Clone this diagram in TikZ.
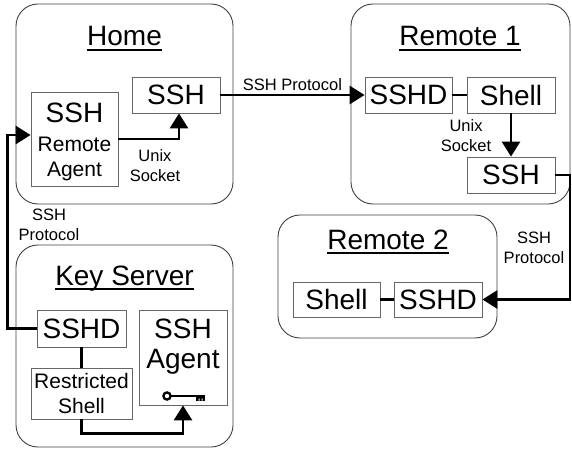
\documentclass[tikz,border=0pt]{standalone}
\usepackage{fontspec}
\setmainfont{Liberation Sans}
\usetikzlibrary{arrows.meta, positioning, calc}

\newcommand{\ftitle}{\fontsize{28}{30}\selectfont}
\newcommand{\fbig}{\fontsize{28}{30}\selectfont}
\newcommand{\fmid}{\fontsize{21}{25}\selectfont}
\newcommand{\fsmall}{\fontsize{16.5}{20}\selectfont}

\tikzset{
  host/.style={draw=black!75, line width=0.9pt, rounded corners=22pt, inner sep=0pt},
  proc/.style={draw=black!60, line width=0.8pt, inner sep=0pt, font=\fbig},
  title/.style={anchor=base, inner sep=0pt, font=\ftitle},
  uline/.style={line width=1.3pt},
  lbl/.style={inner sep=0pt, font=\fsmall, align=center},
  conn/.style={line width=2.8pt},
  arr/.style={conn, -{Triangle[width=18pt,length=15pt]}}
}

\begin{document}
\begin{tikzpicture}[x=1pt,y=-1pt]
\useasboundingbox (0,0) rectangle (572,449);

% Vẽ các khung máy
\node[host, minimum width=217pt, minimum height=200pt] (home) at (124.5,104) {};
\node[host, minimum width=217pt, minimum height=202pt] (keysrv) at (124.5,346) {};
\node[host, minimum width=219pt, minimum height=200pt] (rem1) at (460.5,104) {};
\node[host, minimum width=219pt, minimum height=123pt] (rem2) at (387.5,276.5) {};

% Tiêu đề
\node[title] (thome) at (124.5,46) {Home};
\node[title] (tkey) at (124.5,285) {Key Server};
\node[title] (trem1) at (460,46) {Remote 1};
\node[title] (trem2) at (388,249) {Remote 2};
\foreach \t in {thome,tkey,trem1,trem2}
  \draw[uline] ([yshift=-4pt]\t.base west) -- ([yshift=-4pt]\t.base east);

% Các tiến trình
\node[proc, minimum width=88pt, minimum height=36pt] (hssh) at (176,95) {SSH};
\node[proc, minimum width=87pt, minimum height=94pt, align=center, font=\fmid] (hagent) at (74.5,139)
  {\rule{0pt}{26pt}{\fbig SSH}\\[4pt]Remote\\Agent};
\node[proc, minimum width=89pt, minimum height=37pt] (ksshd) at (81.5,328.5) {SSHD};
\node[proc, minimum width=101pt, minimum height=51pt, align=center, font=\fmid] (krsh) at (81.5,393.5)
  {Restricted\\Shell};
\node[proc, minimum width=88pt, minimum height=95pt] (ragent) at (183,357.5) {};
\node[inner sep=0pt, font=\fbig, align=center] (tagent) at (183,347) {SSH\\Agent};
\node[proc, minimum width=87pt, minimum height=36pt] (r1sshd) at (408.5,95) {SSHD};
\node[proc, minimum width=88pt, minimum height=36pt] (r1shell) at (511,95) {Shell};
\node[proc, minimum width=88pt, minimum height=36pt] (r1ssh) at (511,175) {SSH};
\node[proc, minimum width=87pt, minimum height=35pt] (r2shell) at (336.5,299.5) {Shell};
\node[proc, minimum width=88pt, minimum height=35pt] (r2sshd) at (438,299.5) {SSHD};

% Chìa khóa
\draw[line width=2.3pt] (167,396) circle (3.6pt);
\draw[line width=1.4pt] (171,396) -- (205,396);
\fill (196,396) rectangle (205,400.5);
\fill[white] (198.5,398.5) rectangle (199.5,400.6) (201.5,398.5) rectangle (202.5,400.6);

% Nhãn
\node[lbl] (lus1) at (155,166) {Unix\\Socket};
\node[lbl] (lus2) at (466,136) {Unix\\Socket};
\node[lbl] (lsp1) at (49,225) {SSH\\Protocol};
\node[lbl] (lsp2) at (534,248) {SSH\\Protocol};
\coordinate (redge) at (570,240);

% Các đường nối
\draw[arr] (hssh.east) -- node[above, inner sep=2.5pt, font=\fsmall] (lsp0) {SSH Protocol} (r1sshd.west);
\draw[arr] (hagent.east) -| ([xshift=3pt]hssh.south);
\draw[arr] (ksshd.west) -- ++(-29,0) |- ([yshift=4pt]hagent.west);
\draw[conn] (r1sshd) -- (r1shell);
\draw[arr] (r1shell.south) -- (r1ssh.north);
\draw[arr] (r1ssh.east) -| (redge) |- (r2sshd.east);
\draw[conn] (r2shell) -- (r2sshd);
\draw[conn] (ksshd) -- (krsh);
\draw[arr] (krsh.south) -- ++(0,14) -| (ragent.south);

\end{tikzpicture}
\end{document}
